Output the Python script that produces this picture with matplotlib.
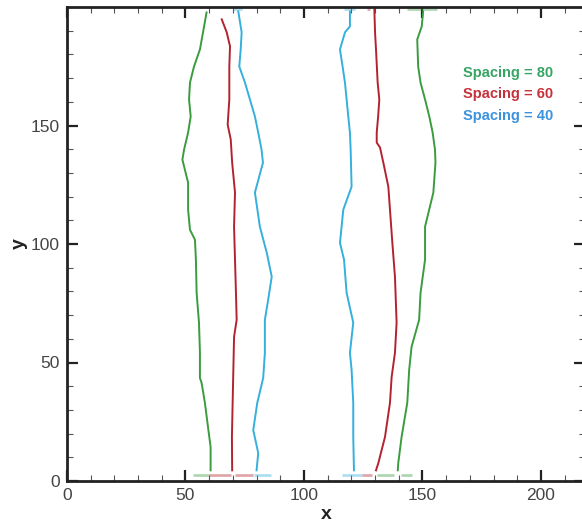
import numpy as np
import matplotlib.pyplot as plt
from matplotlib.ticker import MultipleLocator

# traced interface positions (x) against height (y) for each spacing
green_l_y = [197.7, 189.3, 182.1, 174.9, 168.1, 161.0, 153.8, 147.0, 139.8, 135.6, 125.9, 114.5,
             106.0, 101.8, 93.4, 79.4, 66.8, 54.1, 43.5, 41.4, 33.0, 22.8, 14.4, 4.5]
green_l_x = [58.9, 57.4, 56.1, 53.6, 51.9, 51.5, 52.2, 51.1, 49.4, 48.7, 51.1, 51.1,
             51.9, 54.0, 54.4, 54.7, 55.7, 56.1, 56.1, 56.8, 58.2, 59.5, 60.6, 60.6]
green_r_y = [198.1, 191.8, 186.3, 174.9, 168.1, 161.0, 153.8, 147.0, 139.8, 134.3, 121.7, 107.3,
             93.4, 79.4, 68.0, 56.6, 46.9, 33.0, 18.6, 7.6, 4.5]
green_r_x = [150.3, 149.7, 147.8, 148.2, 149.2, 151.1, 152.9, 154.3, 155.3, 155.5, 154.6, 151.1,
             151.1, 149.2, 148.6, 145.4, 144.4, 143.6, 141.2, 139.8, 139.6]

red_l_y = [194.8, 189.3, 183.4, 174.9, 161.0, 150.4, 144.1, 134.3, 121.7, 107.3, 93.4, 79.4,
           68.0, 60.8, 46.9, 33.0, 18.6, 4.5]
red_l_x = [65.3, 67.4, 68.8, 68.5, 68.5, 67.8, 69.1, 69.7, 70.9, 70.5, 70.9, 71.3,
           71.6, 70.5, 70.2, 69.9, 69.6, 69.7]
red_r_y = [199.0, 189.3, 182.1, 168.1, 161.0, 153.8, 147.0, 142.8, 140.7, 134.3, 124.2, 114.5,
           100.5, 86.2, 66.8, 54.1, 43.9, 33.0, 18.6, 7.6, 4.5]
red_r_x = [129.7, 130.0, 130.4, 131.1, 131.8, 131.3, 130.7, 130.7, 132.1, 133.5, 135.6, 136.3,
           137.3, 138.4, 139.1, 138.4, 137.0, 136.3, 134.2, 131.4, 130.4]

blue_l_y = [198.1, 189.3, 182.1, 174.9, 168.1, 161.0, 153.8, 147.0, 139.8, 134.3, 121.7, 107.3,
            96.3, 86.2, 76.5, 68.0, 54.1, 43.5, 33.0, 21.5, 11.8, 4.5]
blue_l_x = [72.3, 73.7, 73.3, 72.7, 75.1, 77.2, 79.3, 80.7, 82.1, 82.7, 79.3, 81.4,
            84.3, 86.4, 84.9, 83.5, 83.5, 82.8, 80.3, 78.6, 80.7, 80.0]
blue_r_y = [198.1, 191.8, 189.3, 182.1, 174.9, 168.1, 161.0, 153.8, 147.0, 139.8, 124.2, 114.5,
            100.5, 93.4, 79.4, 66.8, 54.1, 46.9, 33.0, 18.6, 4.5]
blue_r_x = [119.4, 119.4, 117.3, 115.2, 116.3, 117.3, 118.0, 118.7, 119.4, 119.7, 120.1, 116.6,
            115.2, 116.9, 118.0, 120.8, 119.4, 120.1, 120.8, 120.8, 121.1]

# short residue fragments along bottom and top walls
frag_y = [2.5, 2.5, 2.5, 2.5, 2.5, 2.5, 2.5, 2.5, 199.0, 199.0, 199.0, 199.0]
frag_x0 = [53.0, 60.0, 71.0, 79.0, 116.0, 124.5, 131.0, 141.0, 70.0, 117.0, 126.5, 143.5]
frag_x1 = [60.0, 69.0, 78.5, 86.0, 124.5, 128.7, 138.0, 145.5, 74.0, 121.5, 128.0, 156.0]
frag_c = ['g', 'r', 'r', 'b', 'b', 'r', 'g', 'g', 'b', 'b', 'r', 'g']

labels = ['Spacing = 80', 'Spacing = 60', 'Spacing = 40']

line_col = {'g': '#3a9c3e', 'r': '#b3232f', 'b': '#35b0dc'}
text_col = ['#36a462', '#c6323b', '#3b92df']

plt.rcParams['font.family'] = ['Liberation Sans', 'DejaVu Sans']

fig = plt.figure(figsize=(5.82, 5.27), dpi=100)
ax = fig.add_axes([67 / 582, 46 / 527, 518 / 582, 474 / 527])

lw = 1.4
ax.plot(green_l_x, green_l_y, color=line_col['g'], lw=lw)
ax.plot(green_r_x, green_r_y, color=line_col['g'], lw=lw)
ax.plot(red_l_x, red_l_y, color=line_col['r'], lw=lw)
ax.plot(red_r_x, red_r_y, color=line_col['r'], lw=lw)
ax.plot(blue_l_x, blue_l_y, color=line_col['b'], lw=lw)
ax.plot(blue_r_x, blue_r_y, color=line_col['b'], lw=lw)

for y, x0, x1, c in zip(frag_y, frag_x0, frag_x1, frag_c):
    ax.plot([x0, x1], [y, y], color=line_col[c], lw=2.0, alpha=0.4,
            solid_capstyle='butt')

ax.set_xlim(0, 218.6)
ax.set_ylim(0, 200)
ax.xaxis.set_major_locator(MultipleLocator(50))
ax.xaxis.set_minor_locator(MultipleLocator(10))
ax.yaxis.set_major_locator(MultipleLocator(50))
ax.yaxis.set_minor_locator(MultipleLocator(10))
ax.set_yticks([0, 50, 100, 150])

ax.tick_params(which='both', direction='in', top=True, right=True, colors='#222222')
ax.tick_params(which='major', length=8, width=1.6, labelsize=12.5, pad=5,
               labelcolor='#444444')
ax.tick_params(which='minor', length=4, width=0.8, color='#555555')
for s in ax.spines.values():
    s.set_linewidth(2.0)
    s.set_color('#222222')

ax.set_xlabel('x', fontsize=14, fontweight='bold', labelpad=2, color='#222222')
ax.set_ylabel('y', fontsize=14, fontweight='bold', labelpad=2, color='#222222')

for i, (lab, c) in enumerate(zip(labels, text_col)):
    ax.text(0.851, 0.861 - i * 0.0455, lab, transform=ax.transAxes, color=c,
            fontsize=10.5, fontweight='bold', ha='center', va='center')

fig.savefig('out.png', dpi=100)
